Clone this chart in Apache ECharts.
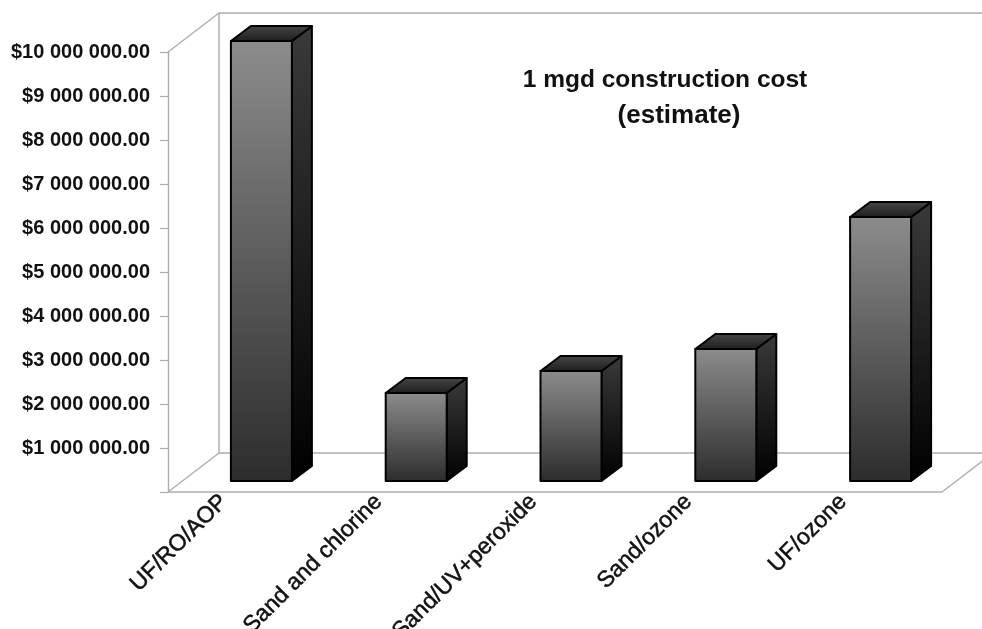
<!DOCTYPE html>
<html>
<head>
<meta charset="utf-8">
<style>html,body{margin:0;padding:0;background:#fff}#chart{width:982px;height:629px}</style>
<script src="https://cdn.jsdelivr.net/npm/echarts@6/dist/echarts.min.js"></script>
</head>
<body>
<div id="chart"></div>
<script>
const categories = ['UF/RO/AOP', 'Sand and chlorine', 'Sand/UV+peroxide', 'Sand/ozone', 'UF/ozone'];
const costs = [10000000, 2000000, 2500000, 3000000, 6000000];
const titleMain = '1 mgd construction cost';
const titleSub = '(estimate)';
const yMax = 10000000;
const yStep = 1000000;

// Depth of the plot box and of each column, in pixels
const WALL_DX = 51, WALL_DY = -39;
const BAR_DX = 20, BAR_DY = -15;
const BAR_W = 61, BAR_SHIFT_X = 16, BAR_SHIFT_Y = -11;

function money(v) {
  if (v === 0) return '';
  const s = String(Math.round(v)).replace(/\B(?=(\d{3})+(?!\d))/g, ' ');
  return '$' + s + '.00';
}

function vGrad(a, b) {
  return new echarts.graphic.LinearGradient(0, 0, 0, 1, [
    { offset: 0, color: a }, { offset: 1, color: b }
  ]);
}

// White floor plus the grey outline of the walls and floor
function renderFrame(params, api) {
  const cs = params.coordSys;
  const L = cs.x, R = cs.x + cs.width, T = cs.y, B = cs.y + cs.height;
  const line = { stroke: '#adadad', lineWidth: 1.4, fill: null };
  const seg = (x1, y1, x2, y2) => ({
    type: 'line',
    shape: { x1, y1, x2, y2 },
    style: line
  });
  return {
    type: 'group',
    children: [
      {
        type: 'polygon',
        shape: { points: [[L, B], [R, B], [R + WALL_DX, B + WALL_DY], [L + WALL_DX, B + WALL_DY]] },
        style: { fill: '#fff' }
      },
      seg(L, T, L + WALL_DX, T + WALL_DY),
      seg(L + WALL_DX, T + WALL_DY, 982, T + WALL_DY),
      seg(L + WALL_DX, T + WALL_DY, L + WALL_DX, B + WALL_DY),
      seg(L, B, L + WALL_DX, B + WALL_DY),
      seg(L + WALL_DX, B + WALL_DY, 982, B + WALL_DY),
      seg(L, B, R, B),
      seg(R, B, R + WALL_DX, B + WALL_DY)
    ]
  };
}

// One extruded column: front, side and top faces
function renderColumn(params, api) {
  const i = api.value(0);
  const top = api.coord([i, api.value(1)]);
  const base = api.coord([i, 0]);
  const x0 = top[0] + BAR_SHIFT_X - BAR_W / 2;
  const x1 = x0 + BAR_W;
  const yT = top[1] + BAR_SHIFT_Y;
  const yB = base[1] + BAR_SHIFT_Y;
  const edge = { stroke: '#000', lineWidth: 2, lineJoin: 'round' };
  return {
    type: 'group',
    children: [
      {
        type: 'polygon',
        shape: { points: [[x1, yT], [x1 + BAR_DX, yT + BAR_DY], [x1 + BAR_DX, yB + BAR_DY], [x1, yB]] },
        style: Object.assign({ fill: vGrad('#3a3a3a', '#000') }, edge)
      },
      {
        type: 'polygon',
        shape: { points: [[x0, yT], [x1, yT], [x1 + BAR_DX, yT + BAR_DY], [x0 + BAR_DX, yT + BAR_DY]] },
        style: Object.assign({ fill: vGrad('#484848', '#1c1c1c') }, edge)
      },
      {
        type: 'rect',
        shape: { x: x0, y: yT, width: BAR_W, height: yB - yT },
        style: Object.assign({ fill: vGrad('#8c8c8c', '#2c2c2c') }, edge)
      }
    ]
  };
}

const titleFont = { fontFamily: 'Liberation Sans', fontWeight: 'bold', color: '#111', lineHeight: 35 };

const chart = echarts.init(document.getElementById('chart'), null, { renderer: 'canvas' });
chart.setOption({
  animation: false,
  backgroundColor: '#fff',
  grid: { left: 168, right: 40, top: 52, bottom: 137, outerBoundsMode: 'none' },
  title: {
    text: '{main|' + titleMain + '}\n{sub|' + titleSub + '}',
    left: 660,
    top: 58,
    textAlign: 'center',
    textStyle: {
      rich: {
        main: Object.assign({ fontSize: 24.5 }, titleFont),
        sub: Object.assign({ fontSize: 26, padding: [0, 0, 0, 28] }, titleFont)
      }
    }
  },
  xAxis: {
    type: 'category',
    data: categories,
    axisLine: { show: false },
    axisTick: { show: false },
    axisLabel: {
      rotate: 45,
      interval: 0,
      margin: 1,
      verticalAlign: 'bottom',
      padding: [0, 19, 0, 0],
      fontFamily: 'Liberation Sans',
      fontSize: 23,
      color: '#111',
      textBorderColor: '#111',
      textBorderWidth: 0.5
    }
  },
  yAxis: {
    type: 'value',
    min: 0,
    max: yMax,
    interval: yStep,
    splitLine: { show: false },
    axisLine: { show: true, lineStyle: { color: '#adadad', width: 1.4 } },
    axisTick: { show: true, length: 8, lineStyle: { color: '#adadad', width: 1.2 } },
    axisLabel: {
      formatter: money,
      margin: 18,
      fontFamily: 'Liberation Sans',
      fontWeight: 'bold',
      fontSize: 20,
      color: '#111'
    }
  },
  series: [
    {
      type: 'custom',
      name: 'frame',
      renderItem: renderFrame,
      data: [[0, 0]],
      clip: false,
      silent: true,
      z: 2
    },
    {
      type: 'custom',
      name: 'Construction cost',
      renderItem: renderColumn,
      encode: { x: 0, y: 1 },
      data: costs.map((v, i) => [i, v]),
      clip: false,
      z: 3
    }
  ]
});
</script>
</body>
</html>
